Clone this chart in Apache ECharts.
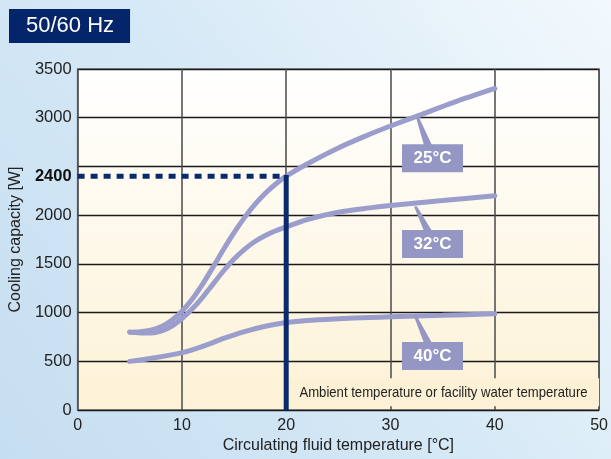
<!DOCTYPE html>
<html>
<head>
<meta charset="utf-8">
<script src="https://cdn.jsdelivr.net/npm/echarts@6/dist/echarts.min.js"></script>
<style>html,body{margin:0;padding:0;}#c{width:611px;height:459px;}</style>
</head>
<body>
<div id="c"></div>
<script>
// ---- data ----
const titleText = '50/60 Hz';
const xName = 'Circulating fluid temperature [°C]';
const yName = 'Cooling capacity [W]';
const yLabelValues = [0, 500, 1000, 1500, 2000, 2400, 3000, 3500];
const noteText = 'Ambient temperature or facility water temperature';

const temps25 = [5, 6, 7, 8, 9, 10, 11, 12, 13, 14, 15, 16, 17, 18, 19, 20, 22, 25, 28, 30, 33, 36, 40];
const cap25   = [800, 805, 820, 855, 920, 1015, 1140, 1295, 1470, 1650, 1820, 1975, 2110, 2225, 2320, 2400, 2525, 2690, 2830, 2915, 3035, 3155, 3300];

const temps32 = [5, 6, 7, 8, 9, 10, 11, 12, 13, 14, 15, 16, 17, 18, 19, 20, 22, 25, 28, 30, 35, 40];
const cap32   = [800, 792, 792, 810, 860, 940, 1040, 1160, 1295, 1430, 1550, 1650, 1730, 1792, 1840, 1880, 1955, 2030, 2075, 2100, 2150, 2200];

const temps40 = [5, 7, 10, 12, 14, 16, 18, 20, 22, 25, 28, 30, 35, 40];
const cap40   = [500, 530, 590, 655, 735, 805, 860, 898, 920, 937, 950, 957, 972, 988];

const refX = 20;
const refY = 2400;

// label callouts: [curveX, curveY, boxX, boxTopY]
const calloutPos = [
  [32.6, 3000, 33.5, 2728],
  [32.4, 2090, 33.5, 1849],
  [32.4, 960, 33.5, 700]
];
const calloutText = ['25°C', '32°C', '40°C'];
// note box: [x1, yBottom, x2, yTop]
const noteArea = [20.16, 40.6, 50, 327];

// ---- chart ----
const curveColor = '#9b9dcc';
const navy = '#0a2a6e';
const zip = (xs, ys) => xs.map((x, i) => [x, ys[i]]);
const FONT = 'Liberation Sans, Arial, sans-serif';

const chart = echarts.init(document.getElementById('c'));
const curve = (name, xs, ys) => ({
  name, type: 'line', data: zip(xs, ys), smooth: 0.3,
  showSymbol: false, symbol: 'none', z: 4,
  lineStyle: { color: curveColor, width: 5, cap: 'round' }
});

chart.setOption({
  animation: false,
  backgroundColor: {
    type: 'linear', x: 0, y: 1, x2: 1, y2: 0,
    colorStops: [
      { offset: 0, color: '#c6def1' },
      { offset: 0.5, color: '#d6e9f6' },
      { offset: 1, color: '#f3f9fd' }
    ]
  },
  title: {
    text: titleText, left: 9, top: 9,
    backgroundColor: '#05256b',
    padding: [6, 16, 6, 17],
    textStyle: { color: '#ffffff', fontSize: 22, fontWeight: 'normal', fontFamily: FONT, lineHeight: 22 }
  },
  grid: {
    left: 77, right: 9, top: 69, bottom: 45, show: true,
    borderColor: '#777', borderWidth: 1.5,
    backgroundColor: {
      type: 'linear', x: 0, y: 0, x2: 0, y2: 1,
      colorStops: [
        { offset: 0, color: '#ffffff' },
        { offset: 1, color: '#fdf2d6' }
      ]
    }
  },
  xAxis: {
    type: 'value', min: 0, max: 50, interval: 10,
    name: xName, nameLocation: 'middle', nameGap: 26,
    nameTextStyle: { fontSize: 16, color: '#222', fontFamily: FONT },
    axisLine: { show: false }, axisTick: { show: false },
    axisLabel: { fontSize: 16, color: '#222', margin: 7, fontFamily: FONT },
    splitLine: { lineStyle: { color: '#4a4a4a', width: 1.5 } }
  },
  yAxis: {
    type: 'value', min: 0, max: 3500, interval: 500,
    name: yName, nameLocation: 'middle', nameGap: 48, nameRotate: 90,
    nameTextStyle: { fontSize: 16, color: '#222', fontFamily: FONT },
    axisLine: { show: false }, axisTick: { show: false },
    axisLabel: {
      customValues: yLabelValues,
      fontSize: 16.5, color: '#222', margin: 6, fontFamily: FONT,
      formatter: v => v === refY ? '{b|' + v + '}' : String(v),
      rich: { b: { fontWeight: 'bold', fontSize: 16.5, color: '#111', fontFamily: FONT } }
    },
    splitLine: { lineStyle: { color: '#1a1a1a', width: 1.3 } }
  },
  series: [
    {
      type: 'custom', z: 3, data: [noteArea],
      encode: { x: [0, 2], y: [1, 3] },
      renderItem: (params, api) => {
        const a = api.coord([api.value(0), api.value(3)]);
        const b = api.coord([api.value(2), api.value(1)]);
        return {
          type: 'group',
          children: [
            { type: 'rect', shape: { x: a[0], y: a[1], width: b[0] - a[0], height: b[1] - a[1] }, style: { fill: '#fdf1d5' } },
            { type: 'text', x: (a[0] + b[0]) / 2, y: (a[1] + b[1]) / 2 + 1, scaleX: 0.875,
              style: { text: noteText, fill: '#222', font: '15px ' + FONT, align: 'center', verticalAlign: 'middle' } }
          ]
        };
      }
    },
    curve('25°C', temps25, cap25),
    curve('32°C', temps32, cap32),
    curve('40°C', temps40, cap40),
    {
      type: 'line', data: [[0, refY], [refX, refY]], symbol: 'none', z: 5,
      lineStyle: { color: navy, width: 5, type: [7, 6] }
    },
    {
      type: 'line', data: [[refX, 0], [refX, refY + 12]], symbol: 'none', z: 5,
      lineStyle: { color: navy, width: 5 }
    },
    {
      type: 'custom', z: 6, data: calloutPos,
      encode: { x: [0, 2], y: [1, 3] },
      renderItem: (params, api) => {
        const p1 = api.coord([api.value(0), api.value(1)]);
        const p2 = api.coord([api.value(2), api.value(3)]);
        const txt = calloutText[params.dataIndex];
        return {
          type: 'group',
          children: [
            { type: 'polygon', shape: { points: [[p1[0] - 1.5, p1[1]], [p1[0] + 1.5, p1[1]], [p2[0] + 5, p2[1] + 1], [p2[0] - 3, p2[1] + 1]] },
              style: { fill: '#9496c4' } },
            { type: 'rect', shape: { x: p2[0] - 25, y: p2[1], width: 61, height: 28 }, style: { fill: '#9496c4' } },
            { type: 'text', x: p2[0] + 5.5, y: p2[1] + 14,
              style: { text: txt, fill: '#ffffff', font: 'bold 17px ' + FONT, align: 'center', verticalAlign: 'middle' } }
          ]
        };
      }
    }
  ]
});
</script>
</body>
</html>
